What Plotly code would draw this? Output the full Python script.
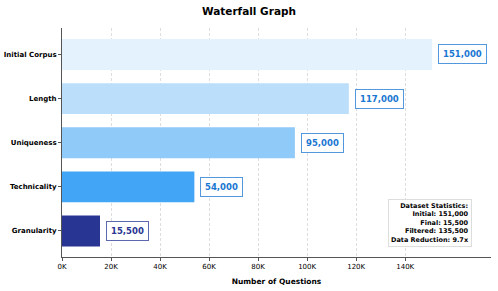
import plotly.graph_objects as go

categories = ["Initial Corpus", "Length", "Uniqueness", "Technicality", "Granularity"]
values = [151000, 117000, 95000, 54000, 15500]
bar_colors = ["#E3F2FD", "#BBDEFB", "#90CAF9", "#42A5F5", "#283593"]
label_colors = ["#1976D2", "#1976D2", "#1976D2", "#1976D2", "#283593"]
label_borders = ["rgba(25,118,210,0.75)"] * 4 + ["rgba(40,53,147,0.75)"]
tick_vals = [0, 20000, 40000, 60000, 80000, 100000, 120000, 140000]
tick_text = ["0K", "20K", "40K", "60K", "80K", "100K", "120K", "140K"]
stats_lines = ["Dataset Statistics:", "Initial: 151,000", "Final: 15,500",
               "Filtered: 135,500", "Data Reduction: 9.7x"]

FONT = "DejaVu Sans"

fig = go.Figure()
fig.add_trace(go.Bar(
    x=values, y=categories, orientation="h", width=0.7,
    marker=dict(color=bar_colors, line=dict(width=0)),
    showlegend=False, hoverinfo="skip",
))

for c, v, tc, bc in zip(categories, values, label_colors, label_borders):
    fig.add_annotation(
        x=v, y=c, xref="x", yref="y", text=f"{v:,}", showarrow=False,
        xanchor="left", yanchor="middle", xshift=6,
        font=dict(family=FONT, size=8.5, color=tc, weight="bold"),
        bgcolor="white", bordercolor=bc, borderwidth=1, borderpad=4,
    )

fig.add_annotation(
    x=0.956, y=0.044, xref="paper", yref="paper", xanchor="right", yanchor="bottom",
    text="<br>".join(stats_lines), align="right", showarrow=False,
    font=dict(family=FONT, size=6.5, color="black", weight="bold"),
    bgcolor="white", bordercolor="#DDDDDD", borderwidth=1, borderpad=2,
)

fig.update_layout(
    width=498, height=291,
    margin=dict(l=62, r=7, t=28, b=34, autoexpand=False),
    plot_bgcolor="white", paper_bgcolor="white",
    title=dict(text="Waterfall Graph", x=0.5, xanchor="center", y=0.962, yanchor="middle",
               font=dict(family=FONT, size=10.5, color="black", weight="bold")),
    font=dict(family=FONT, color="black"),
    bargap=0.3,
)
fig.update_xaxes(
    automargin=False,
    range=[0, 175000], tickvals=tick_vals, ticktext=tick_text,
    tickfont=dict(family=FONT, size=7, color="black"),
    ticks="outside", ticklen=3, tickcolor="#555555",
    showgrid=True, gridcolor="#DDDDDD", griddash="3px,2px", gridwidth=0.7,
    showline=True, linecolor="#555555", linewidth=1, zeroline=False,
    title=dict(text="Number of Questions", standoff=8,
               font=dict(family=FONT, size=7.5, color="black", weight="bold")),
)
fig.update_yaxes(
    automargin=False,
    categoryorder="array", categoryarray=categories, range=[4.59, -0.6],
    tickfont=dict(family=FONT, size=7, color="black", weight="bold"),
    ticks="outside", ticklen=3, tickcolor="#555555",
    showgrid=False, showline=True, linecolor="#555555", linewidth=1, zeroline=False,
)

fig.write_html("out.html", config={"displayModeBar": False},
               post_script="document.body.style.margin='0';document.body.style.overflow='hidden';")
